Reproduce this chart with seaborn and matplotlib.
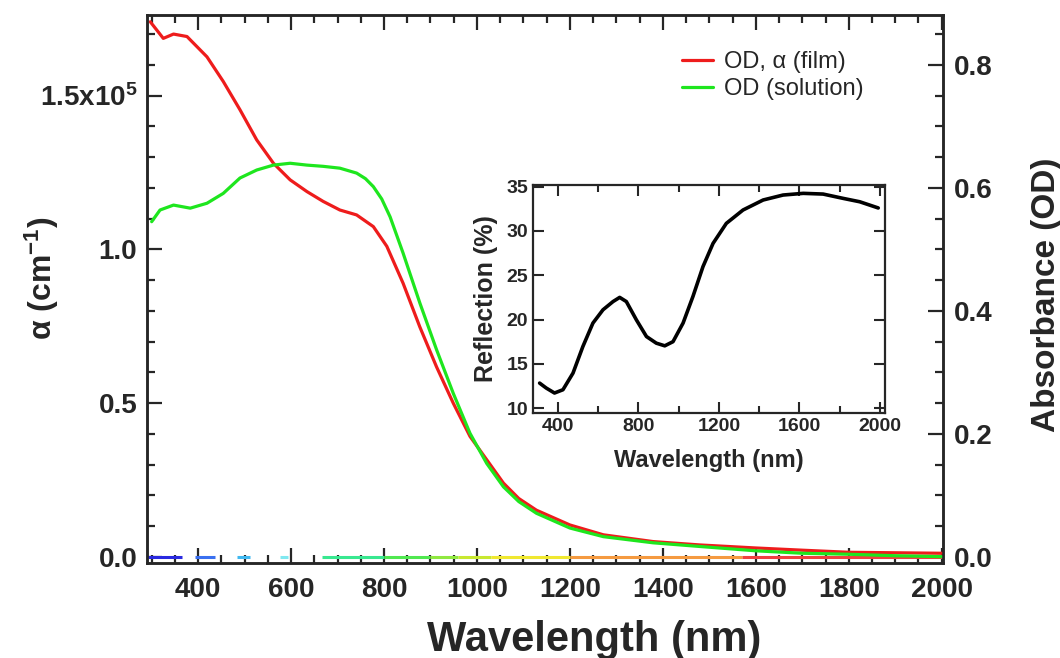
import matplotlib
matplotlib.use("Agg")
import matplotlib.pyplot as plt
import seaborn as sns
from matplotlib.ticker import MultipleLocator

# film absorbance (OD)
wl_film = [297, 325, 347, 376, 419, 454, 490, 526, 562, 598, 634, 669, 705, 741, 777,
           806, 841, 877, 913, 949, 985, 1021, 1057, 1090, 1128, 1200, 1272, 1379, 1480,
           1600, 1700, 1800, 1900, 2000]
od_film = [0.870, 0.843, 0.850, 0.846, 0.813, 0.773, 0.727, 0.678, 0.640, 0.613, 0.594,
           0.578, 0.564, 0.556, 0.537, 0.505, 0.445, 0.374, 0.309, 0.250, 0.196, 0.158,
           0.120, 0.095, 0.076, 0.052, 0.036, 0.025, 0.0195, 0.0146, 0.011, 0.0076,
           0.0068, 0.006]

# solution absorbance (OD)
wl_sol = [300, 318, 347, 383, 419, 454, 490, 526, 562, 598, 634, 669, 705, 741, 760,
          777, 795, 813, 841, 877, 913, 949, 985, 1021, 1057, 1090, 1128, 1200, 1272,
          1379, 1480, 1600, 1700, 1800, 1900, 2000]
od_sol = [0.545, 0.564, 0.572, 0.567, 0.575, 0.591, 0.616, 0.629, 0.637, 0.640, 0.637,
          0.635, 0.632, 0.624, 0.615, 0.602, 0.582, 0.553, 0.494, 0.413, 0.337, 0.266,
          0.201, 0.152, 0.114, 0.090, 0.071, 0.047, 0.033, 0.023, 0.017, 0.010, 0.006,
          0.0044, 0.002, 0.0005]

# inset: reflection spectrum
wl_refl = [309, 342, 383, 425, 475, 524, 574, 624, 674, 707, 740, 790, 840, 889, 931,
           972, 1022, 1071, 1121, 1171, 1237, 1320, 1420, 1519, 1619, 1718, 1818, 1900, 1992]
refl = [12.82, 12.26, 11.7, 12.07, 13.95, 16.95, 19.6, 21.1, 22.03, 22.5, 22.03, 19.96,
        18.08, 17.33, 17.03, 17.5, 19.6, 22.6, 25.98, 28.6, 30.86, 32.37, 33.5, 34.06,
        34.25, 34.17, 33.68, 33.3, 32.6]

# coloured spectrum strip along the zero line
spec_start = [292, 394, 484, 576, 667, 800, 900, 960, 1030, 1200, 1570]
spec_end = [366, 437, 512, 594, 800, 900, 960, 1030, 1200, 1570, 2000]
spec_colors = ["#2a2ae0", "#3a70f0", "#40b8f0", "#80e8f0", "#38e890", "#50e850",
               "#90e840", "#c8e830", "#f0e830", "#f59a40", "#f04040"]

alpha_per_od = 2.0e5
left_ticks = [0, 0.5e5, 1.0e5, 1.5e5]
left_labels = ["0.0", "0.5", "1.0", "1.5x10$^{5}$"]

sns.set_style("ticks")
plt.rcParams["font.family"] = ["Liberation Sans", "DejaVu Sans"]
plt.rcParams["mathtext.fontset"] = "custom"
plt.rcParams["mathtext.bf"] = "Liberation Sans:bold"
plt.rcParams["mathtext.rm"] = "Liberation Sans"
plt.rcParams["mathtext.default"] = "bf"

fig = plt.figure(figsize=(10.6, 6.58), dpi=100)
ax = fig.add_axes([0.1387, 0.1444, 0.751, 0.8328])
axr = ax.twinx()

ymin, ymax = -0.0098, 0.881
axr.set_ylim(ymin, ymax)
ax.set_ylim(ymin * alpha_per_od, ymax * alpha_per_od)
ax.set_xlim(290, 2003)

for s, e, c in zip(spec_start, spec_end, spec_colors):
    axr.hlines(0, s, e, colors=c, lw=2.2, zorder=1)

sns.lineplot(x=wl_film, y=od_film, ax=axr, color="#ee1c1c", lw=2.3,
             label="OD, \u03b1 (film)", sort=False)
sns.lineplot(x=wl_sol, y=od_sol, ax=axr, color="#1ee61e", lw=2.3,
             label="OD (solution)", sort=False)

leg = axr.legend(loc="upper left", bbox_to_anchor=(0.672, 0.934), frameon=False,
                 fontsize=17, handlelength=1.3, handletextpad=0.5, labelspacing=0.22,
                 borderpad=0, borderaxespad=0)

ax.xaxis.set_major_locator(MultipleLocator(200))
ax.xaxis.set_minor_locator(MultipleLocator(50))
ax.set_yticks(left_ticks)
ax.set_yticklabels(left_labels)
ax.yaxis.set_minor_locator(MultipleLocator(1e4))
axr.yaxis.set_major_locator(MultipleLocator(0.2))
axr.yaxis.set_minor_locator(MultipleLocator(0.05))

ax.tick_params(which="both", direction="in", top=True, width=1.6, labelsize=20)
ax.tick_params(which="major", length=11)
ax.tick_params(which="minor", length=6)
ax.tick_params(axis="x", which="major", pad=10)
ax.tick_params(axis="y", which="major", pad=7)
axr.tick_params(which="both", direction="in", width=1.6, labelsize=20)
axr.tick_params(which="major", length=11, pad=8)
axr.tick_params(which="minor", length=6)
for lab in ax.get_xticklabels() + ax.get_yticklabels() + axr.get_yticklabels():
    lab.set_fontweight("bold")
for a in (ax, axr):
    for sp in a.spines.values():
        sp.set_linewidth(1.8)

ax.set_xlabel("Wavelength (nm)", fontsize=30, fontweight="bold")
ax.xaxis.set_label_coords(0.5616, -0.14)
ax.xaxis.label.set_va("center")
ax.set_ylabel("\u03b1 (cm$^{-1}$)", fontsize=23, fontweight="bold")
ax.yaxis.set_label_coords(-0.132, 0.52)
ax.yaxis.label.set_va("center")
axr.set_ylabel("Absorbance (OD)", fontsize=24, fontweight="bold")
axr.yaxis.set_label_coords(1.13, 0.49)
axr.yaxis.label.set_va("center")

# inset
axi = fig.add_axes([0.5028, 0.3723, 0.332, 0.3465])
sns.lineplot(x=wl_refl, y=refl, ax=axi, color="black", lw=2.6, sort=False)
axi.set_xlim(276, 2025)
axi.set_ylim(9.44, 35.19)
axi.xaxis.set_major_locator(MultipleLocator(400))
axi.xaxis.set_minor_locator(MultipleLocator(200))
axi.yaxis.set_major_locator(MultipleLocator(5))
axi.tick_params(which="both", direction="in", top=True, right=True, width=1.5,
                labelsize=14)
axi.tick_params(which="major", length=8)
axi.tick_params(which="minor", length=5)
for lab in axi.get_xticklabels() + axi.get_yticklabels():
    lab.set_fontweight("bold")
for sp in axi.spines.values():
    sp.set_linewidth(1.6)
axi.set_xlabel("Wavelength (nm)", fontsize=17, fontweight="bold", labelpad=10)
axi.set_ylabel("Reflection (%)", fontsize=18, fontweight="bold", labelpad=6)

fig.savefig("out.png", dpi=100)
